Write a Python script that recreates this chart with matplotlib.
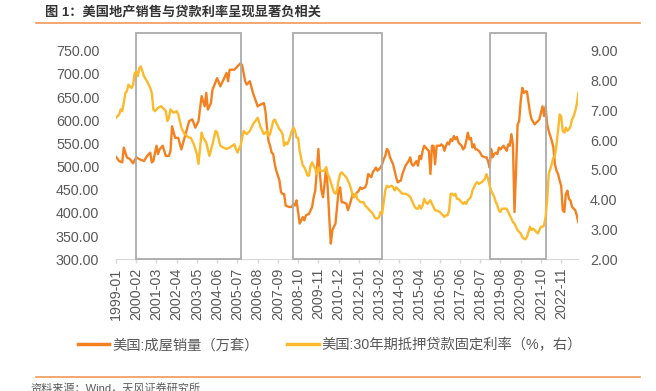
import pandas as pd
import matplotlib
matplotlib.use('Agg')
import matplotlib.pyplot as plt
from matplotlib.patches import Rectangle
from matplotlib.lines import Line2D

plt.rcParams['font.family'] = ['Liberation Sans', 'Noto Sans CJK SC']

# monthly categories, 1999-01 .. 2023-10
months = pd.period_range('1999-01', '2023-10', freq='M').strftime('%Y-%m').tolist()
tick_labels = months[::13]

# US existing home sales (10k units) at month offsets
sales_idx = [0, 2, 4, 5, 7, 9, 11, 13, 15, 18, 20, 22, 23, 24, 26, 27, 28, 30, 32, 34,
             35, 36, 38, 40, 42, 44, 47, 49, 51, 53, 55, 57, 58, 59, 61, 62, 65, 67, 69, 71,
             72, 73, 76, 78, 80, 81, 83, 84, 86, 88, 91, 93, 95, 96, 97, 98, 99, 100, 101, 102,
             103, 105, 106, 107, 108, 109, 111, 113, 114, 115, 116, 117, 118, 120, 121, 122, 124, 126, 127, 128,
             129, 130, 131, 132, 133, 134, 135, 136, 137, 138, 139, 140, 141, 142, 143, 144, 145, 146, 148, 149,
             150, 151, 152, 153, 154, 156, 157, 158, 160, 161, 162, 164, 165, 167, 168, 170, 171, 172, 173, 174,
             175, 176, 178, 179, 180, 181, 183, 184, 186, 188, 189, 190, 191, 193, 194, 195, 196, 197, 198, 199,
             200, 201, 202, 203, 204, 205, 206, 208, 209, 210, 211, 212, 213, 214, 215, 216, 217, 218, 219, 220,
             222, 223, 224, 225, 226, 227, 228, 229, 230, 231, 232, 233, 234, 235, 237, 238, 239, 240, 241, 242,
             243, 244, 245, 246, 247, 248, 249, 251, 252, 253, 254, 255, 256, 257, 258, 259, 260, 261, 262, 263,
             264, 266, 267, 269, 270, 271, 272, 273, 274, 275, 276, 277, 278, 280, 281, 282, 283, 284, 285, 286,
             287, 288, 289, 290, 291, 292, 293, 295, 296, 297]
sales_val = [521, 512, 509, 541, 520, 516, 507, 520, 516, 512, 523, 530, 509, 512, 545, 527, 537, 545, 523, 523,
             534, 587, 562, 562, 537, 562, 598, 602, 584, 598, 652, 630, 659, 623, 637, 666, 691, 673, 687, 702,
             684, 709, 709, 716, 723, 719, 684, 677, 684, 659, 630, 634, 637, 620, 584, 555, 545, 530, 527, 505,
             491, 470, 445, 441, 441, 416, 413, 413, 420, 416, 427, 402, 377, 391, 384, 395, 398, 413, 434, 448,
             491, 538, 484, 448, 434, 463, 498, 455, 391, 334, 363, 370, 377, 413, 448, 455, 423, 423, 420, 406,
             416, 427, 441, 434, 441, 448, 455, 452, 455, 463, 484, 477, 488, 498, 491, 498, 505, 516, 523, 538,
             534, 520, 505, 491, 477, 466, 470, 484, 502, 512, 520, 505, 502, 512, 502, 523, 516, 534, 545, 541,
             537, 534, 484, 545, 545, 505, 545, 545, 548, 545, 534, 545, 552, 548, 559, 555, 566, 559, 564, 552,
             545, 537, 541, 555, 573, 559, 562, 541, 548, 537, 537, 534, 530, 523, 520, 520, 512, 498, 538, 520,
             527, 530, 527, 541, 537, 541, 545, 534, 548, 545, 570, 548, 402, 491, 591, 598, 641, 670, 659, 662,
             662, 616, 602, 591, 595, 598, 602, 616, 630, 609, 630, 591, 577, 555, 541, 505, 491, 484, 470, 459,
             406, 402, 441, 448, 430, 427, 413, 406, 395, 380]

# US 30-year fixed mortgage rate (%) at month offsets
rate_idx = [0, 2, 3, 4, 5, 6, 7, 8, 9, 10, 11, 12, 13, 14, 15, 16, 18, 20, 22, 23,
            24, 25, 27, 29, 32, 33, 34, 35, 37, 39, 40, 42, 44, 47, 48, 50, 51, 52, 53, 55,
            56, 58, 59, 60, 62, 64, 65, 67, 69, 71, 73, 76, 78, 80, 82, 84, 86, 88, 91, 93,
            95, 96, 97, 98, 99, 100, 101, 102, 103, 105, 106, 107, 108, 109, 110, 111, 112, 113, 114, 115,
            116, 117, 118, 120, 121, 122, 123, 124, 125, 126, 127, 128, 129, 130, 131, 132, 134, 135, 136, 137,
            138, 139, 140, 141, 142, 143, 144, 145, 146, 148, 149, 150, 151, 152, 153, 154, 155, 156, 157, 158,
            159, 160, 162, 163, 164, 165, 166, 167, 168, 169, 170, 171, 172, 173, 174, 175, 177, 178, 179, 180,
            181, 182, 183, 184, 186, 188, 189, 190, 192, 193, 194, 195, 196, 197, 198, 199, 200, 201, 202, 203,
            204, 205, 206, 208, 209, 210, 211, 212, 213, 214, 215, 216, 217, 218, 219, 220, 222, 223, 224, 225,
            226, 227, 228, 229, 230, 231, 232, 233, 235, 236, 237, 238, 239, 240, 241, 242, 243, 244, 245, 246,
            247, 248, 250, 251, 252, 253, 254, 255, 256, 257, 258, 259, 260, 261, 262, 263, 264, 266, 267, 268,
            269, 270, 271, 272, 273, 274, 275, 276, 277, 278, 280, 281, 282, 283, 284, 285, 286, 287, 288, 289,
            290, 291, 292, 293, 294, 295, 296, 297]
rate_val = [6.75, 6.86, 7.03, 6.97, 7.25, 7.58, 7.64, 7.86, 7.80, 7.75, 7.86, 8.25, 8.30, 8.14, 8.42, 8.47, 8.14, 7.97, 7.75, 7.58,
            7.03, 6.97, 7.08, 7.14, 6.97, 6.64, 6.75, 7.03, 6.92, 6.97, 6.86, 6.42, 6.20, 6.08, 6.08, 5.86, 5.70, 5.53, 5.20, 6.25,
            6.08, 5.92, 5.70, 5.47, 5.86, 6.31, 6.25, 5.81, 5.75, 5.70, 5.75, 5.86, 5.58, 5.81, 6.31, 6.20, 6.31, 6.53, 6.75, 6.42,
            6.20, 6.25, 6.31, 6.14, 6.20, 6.42, 6.64, 6.69, 6.58, 6.36, 6.31, 6.20, 5.81, 5.92, 5.86, 5.97, 6.14, 6.31, 6.42, 6.31,
            6.08, 6.08, 5.64, 5.14, 5.09, 4.97, 4.81, 4.81, 5.14, 5.25, 5.14, 5.03, 4.86, 5.09, 4.97, 4.97, 4.97, 5.09, 4.86, 4.75,
            4.59, 4.42, 4.25, 4.20, 4.31, 4.64, 4.86, 4.92, 4.86, 4.75, 4.64, 4.53, 4.36, 4.14, 4.09, 4.20, 4.03, 3.98, 3.92, 3.92,
            3.92, 3.81, 3.70, 3.64, 3.59, 3.53, 3.42, 3.37, 3.37, 3.42, 3.59, 3.53, 3.92, 4.31, 4.47, 4.42, 4.47, 4.42, 4.31, 4.42,
            4.36, 4.31, 4.25, 4.20, 4.20, 4.14, 4.09, 3.98, 3.75, 3.70, 3.70, 3.81, 3.70, 3.81, 4.03, 3.92, 3.86, 3.92, 3.98, 3.86,
            3.75, 3.64, 3.64, 3.59, 3.53, 3.48, 3.42, 3.48, 3.48, 3.64, 4.20, 4.20, 4.14, 4.20, 4.03, 4.03, 3.92, 3.86, 3.92, 3.86,
            3.98, 4.03, 4.09, 4.31, 4.42, 4.53, 4.59, 4.53, 4.59, 4.64, 4.70, 4.86, 4.70, 4.47, 4.31, 4.20, 4.09, 3.92, 3.81, 3.64,
            3.59, 3.70, 3.70, 3.70, 3.59, 3.48, 3.37, 3.25, 3.20, 3.09, 2.98, 2.92, 2.87, 2.75, 2.70, 2.67, 2.75, 3.09, 2.98, 3.03,
            2.98, 2.92, 2.87, 2.98, 3.09, 3.09, 3.14, 3.42, 3.98, 4.86, 5.20, 5.42, 5.47, 5.86, 6.31, 6.86, 6.80, 6.31, 6.25, 6.42,
            6.31, 6.36, 6.47, 6.69, 6.80, 6.97, 7.19, 7.58]

# highlighted periods (first month, last month)
box_periods = [('2000-02', '2005-09'), ('2008-07', '2013-04'), ('2019-01', '2022-01')]

title = '图 1：美国地产销售与贷款利率呈现显著负相关'
sales_name = '美国:成屋销量（万套）'
rate_name = '美国:30年期抵押贷款固定利率（%，右）'
source = '资料来源：Wind，天风证券研究所'

ORANGE = '#F4811F'
YELLOW = '#FDB92C'
GREY_TXT = '#595959'
W, H = 656, 391

fig = plt.figure(figsize=(W / 100, H / 100), dpi=100)
ax = fig.add_axes([116 / W, 1 - 259.3 / H, (578.3 - 116) / W, (259.3 - 50.7) / H])
ax2 = ax.twinx()

ax.plot(sales_idx, sales_val, color=ORANGE, lw=1.7, solid_joinstyle='round')
ax2.plot(rate_idx, rate_val, color=YELLOW, lw=1.7, solid_joinstyle='round')

ax.set_xlim(0, len(months) - 1)
ax.set_ylim(300, 750)
ax2.set_ylim(2, 9)
ax.set_yticks(range(300, 751, 50))
ax2.set_yticks(range(2, 10))
ax.yaxis.set_major_formatter(lambda v, p: f'{v:.2f}')
ax2.yaxis.set_major_formatter(lambda v, p: f'{v:.2f}')
ax.set_xticks(range(0, len(months), 13))
ax.set_xticklabels(tick_labels, rotation=90)

for a in (ax, ax2):
    for s in ('top', 'left', 'right'):
        a.spines[s].set_visible(False)
    a.spines['bottom'].set_color('#D9D9D9')
ax2.spines['bottom'].set_visible(False)
ax.tick_params(axis='x', direction='out', length=3, width=1, color='#D9D9D9',
               labelsize=10.3, labelcolor=GREY_TXT, pad=3)
ax.tick_params(axis='y', length=0, labelsize=10.3, labelcolor=GREY_TXT, pad=12)
ax2.tick_params(axis='y', length=0, labelsize=10.3, labelcolor=GREY_TXT, pad=8.5)

# grey frames around the highlighted periods
for start, end in box_periods:
    x0, x1 = months.index(start), months.index(end)
    ax.add_patch(Rectangle((x0, 300), x1 - x0, 488, fill=False, ec='#ABABAB',
                           lw=1.3, clip_on=False, zorder=3))

fig.text(45 / W, 1 - 12 / H, title, fontsize=9.5, fontweight='bold', color='#333333', va='center')
fig.add_artist(Line2D([36 / W, 640 / W], [1 - 23 / H] * 2, color='#EF9A5A', lw=1.2))
fig.add_artist(Line2D([36 / W, 640 / W], [1 - 377 / H] * 2, color='#EF9A5A', lw=1.2))
fig.text(30 / W, 1 - 388 / H, source, fontsize=8, color=GREY_TXT, va='center')

handles = [Line2D([], [], color=ORANGE, lw=2.5), Line2D([], [], color=YELLOW, lw=2.5)]
leg = fig.legend(handles, [sales_name, rate_name], loc='center', ncol=2, frameon=False,
                 bbox_to_anchor=(330 / W, 1 - 345 / H), fontsize=10.3,
                 handlelength=2.2, handletextpad=0.2, columnspacing=2.0)
for t in leg.get_texts():
    t.set_color(GREY_TXT)

fig.savefig('out.png', dpi=100)
